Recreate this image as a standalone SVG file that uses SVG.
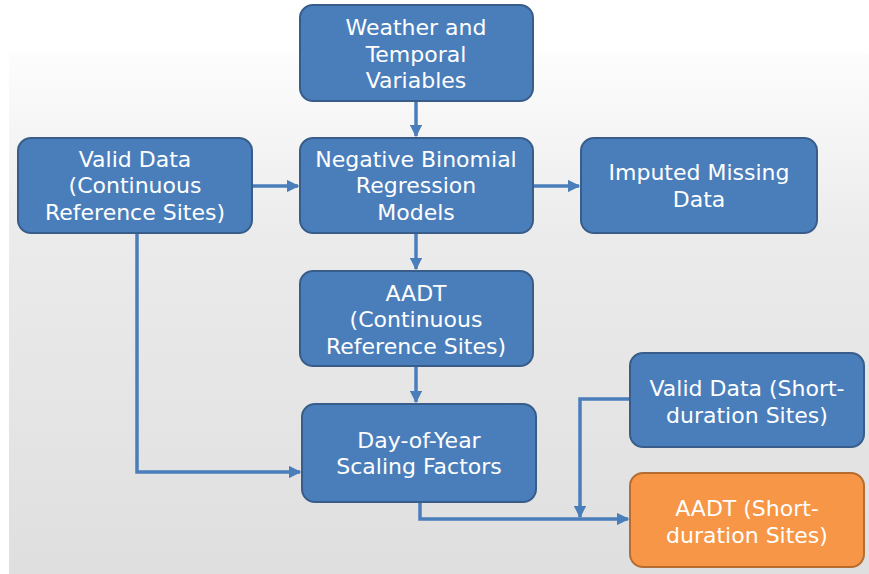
<svg xmlns="http://www.w3.org/2000/svg" width="869" height="574" viewBox="0 0 869 574">
<defs>
<linearGradient id="bg" x1="0" y1="0" x2="0" y2="1">
<stop offset="0" stop-color="#fdfdfd"/>
<stop offset="0.35" stop-color="#ebebeb"/>
<stop offset="1" stop-color="#dfdfdf"/>
</linearGradient>
<marker id="arr" viewBox="0 0 10 10" refX="9" refY="5" markerWidth="3.6" markerHeight="3.6" orient="auto" markerUnits="strokeWidth">
<path d="M0,0 L10,5 L0,10 z" fill="#4a7ebb"/>
</marker>
<style>
.box{fill:#4a7ebb;stroke:#385d8a;stroke-width:2}
.orange{fill:#f79646;stroke:#b66d31;stroke-width:2}
.t{font-family:"DejaVu Sans","Verdana",sans-serif;font-size:22px;fill:#ffffff;text-anchor:middle}
.c{fill:none;stroke:#4a7ebb;stroke-width:3.5}
</style>
</defs>
<rect x="0" y="0" width="869" height="574" fill="#ffffff"/>
<rect x="9" y="53" width="860" height="521" fill="url(#bg)"/>
<g id="connectors">
<path class="c" d="M416,101 V136" marker-end="url(#arr)"/>
<path class="c" d="M252,186 H298" marker-end="url(#arr)"/>
<path class="c" d="M533,186 H579" marker-end="url(#arr)"/>
<path class="c" d="M416,233 V269" marker-end="url(#arr)"/>
<path class="c" d="M416,366 V402" marker-end="url(#arr)"/>
<path class="c" d="M137,233 V472 H300" marker-end="url(#arr)"/>
<path class="c" d="M420,502 V519 H628" marker-end="url(#arr)"/>
<path class="c" d="M630,399 H580 V517" marker-end="url(#arr)"/>
</g>
<g id="weather">
<rect class="box" x="300" y="5" width="233" height="96" rx="13"/>
<text class="t" x="416" y="35">Weather and</text>
<text class="t" x="416" y="61.5">Temporal</text>
<text class="t" x="416" y="88">Variables</text>
</g>
<g id="valid-continuous">
<rect class="box" x="18" y="138" width="234" height="95" rx="13"/>
<text class="t" x="135" y="166.5">Valid Data</text>
<text class="t" x="135" y="193">(Continuous</text>
<text class="t" x="135" y="219.5">Reference Sites)</text>
</g>
<g id="nb-models">
<rect class="box" x="300" y="138" width="233" height="95" rx="13"/>
<text class="t" x="416" y="166.5">Negative Binomial</text>
<text class="t" x="416" y="193">Regression</text>
<text class="t" x="416" y="219.5">Models</text>
</g>
<g id="imputed">
<rect class="box" x="581" y="138" width="236" height="95" rx="13"/>
<text class="t" x="699" y="180">Imputed Missing</text>
<text class="t" x="699" y="206.5">Data</text>
</g>
<g id="aadt-continuous">
<rect class="box" x="300" y="271" width="233" height="95" rx="13"/>
<text class="t" x="416" y="300.5">AADT</text>
<text class="t" x="416" y="327">(Continuous</text>
<text class="t" x="416" y="353.5">Reference Sites)</text>
</g>
<g id="doy-factors">
<rect class="box" x="302" y="404" width="234" height="98" rx="13"/>
<text class="t" x="419" y="447.5">Day-of-Year</text>
<text class="t" x="419" y="473.5">Scaling Factors</text>
</g>
<g id="valid-short">
<rect class="box" x="630" y="353" width="234" height="94" rx="13"/>
<text class="t" x="747" y="395.5">Valid Data (Short-</text>
<text class="t" x="747" y="422.5">duration Sites)</text>
</g>
<g id="aadt-short">
<rect class="orange" x="630" y="473" width="234" height="94" rx="13"/>
<text class="t" x="747" y="515.5">AADT (Short-</text>
<text class="t" x="747" y="542.5">duration Sites)</text>
</g>
</svg>
